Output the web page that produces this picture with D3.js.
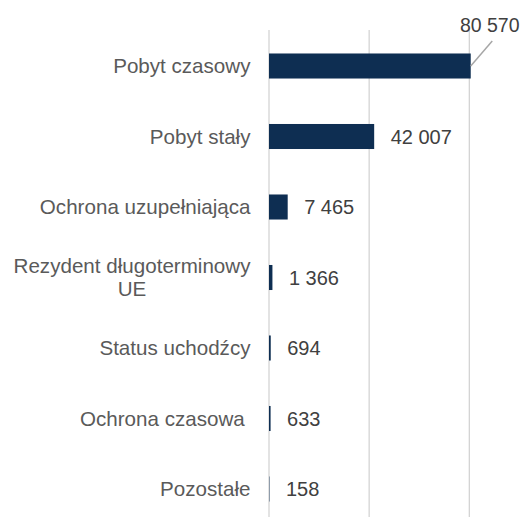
<!DOCTYPE html>
<html>
<head>
<meta charset="utf-8">
<script src="https://cdn.jsdelivr.net/npm/d3@7/dist/d3.min.js"></script>
<style>
  html, body { margin: 0; padding: 0; background: #fff; }
  svg { display: block; }
  text { font-family: "Liberation Sans", Arial, sans-serif; }
</style>
</head>
<body>
<svg id="chart" width="524" height="517"></svg>
<script>
const categories = [
  "Pobyt czasowy",
  "Pobyt stały",
  "Ochrona uzupełniająca",
  ["Rezydent długoterminowy", "UE"],
  "Status uchodźcy",
  "Ochrona czasowa ",
  "Pozostałe"
];
const values = [80570, 42007, 7465, 1366, 694, 633, 158];
const valueLabels = ["80 570", "42 007", "7 465", "1 366", "694", "633", "158"];
const tickValues = [0, 40000, 80000];

const svg = d3.select("#chart");
const W = 524, H = 517;

const x = d3.scaleLinear().domain([0, 80000]).range([269, 469.3]);
const y = d3.scaleBand()
  .domain(d3.range(categories.length))
  .range([30.75, 524.25])
  .paddingInner(0.645)
  .paddingOuter(0.3225);

// gridlines
svg.append("g")
  .selectAll("line")
  .data(tickValues)
  .join("line")
  .attr("x1", d => x(d)).attr("x2", d => x(d))
  .attr("y1", 30).attr("y2", H)
  .attr("stroke", "#d0d0d0")
  .attr("stroke-width", 1.2);

// bars
svg.append("g")
  .selectAll("rect")
  .data(values)
  .join("rect")
  .attr("x", x(0))
  .attr("y", (d, i) => y(i))
  .attr("width", d => x(d) - x(0))
  .attr("height", y.bandwidth())
  .attr("fill", "#0e2e52");

// category labels
const labelX = 250.5;
const cat = svg.append("g")
  .selectAll("text")
  .data(categories)
  .join("text")
  .attr("font-size", 20.6)
  .attr("fill", "#5a5a5a")
  .style("white-space", "pre")
  .attr("xml:space", "preserve");

cat.each(function(d, i) {
  const t = d3.select(this);
  const cy = y(i) + y.bandwidth() / 2;
  if (Array.isArray(d)) {
    t.attr("text-anchor", "middle");
    const tmp = t.append("tspan").text(d[0]);
    const w = this.getComputedTextLength();
    tmp.remove();
    const cx = labelX - w / 2;
    d.forEach((line, k) => {
      t.append("tspan")
        .attr("x", cx)
        .attr("y", cy + 7 + (k - (d.length - 1) / 2) * 23)
        .text(line);
    });
  } else {
    t.attr("text-anchor", "end")
      .attr("x", labelX)
      .attr("y", cy + 7)
      .text(d);
  }
});

// value labels
svg.append("g")
  .selectAll("text")
  .data(values)
  .join("text")
  .attr("font-size", (d, i) => i === 0 ? 19.5 : 20)
  .attr("fill", "#404040")
  .attr("x", (d, i) => i === 0 ? x(d) + 19 : x(d) + 16.5)
  .attr("y", (d, i) => i === 0 ? 32 : y(i) + y.bandwidth() / 2 + 7)
  .attr("text-anchor", (d, i) => i === 0 ? "middle" : "start")
  .text((d, i) => valueLabels[i]);

// leader line for the first label
const cy0 = y(0) + y.bandwidth() / 2;
svg.append("line")
  .attr("x1", x(values[0])).attr("y1", cy0)
  .attr("x2", x(values[0]) + 21.5).attr("y2", cy0 - 25)
  .attr("stroke", "#a6a6a6")
  .attr("stroke-width", 1.5);
</script>
</body>
</html>
